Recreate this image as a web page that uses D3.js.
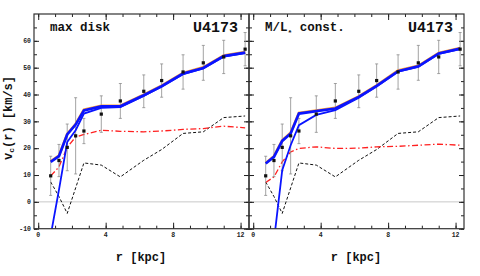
<!DOCTYPE html>
<html>
<head>
<meta charset="utf-8">
<script src="https://cdn.jsdelivr.net/npm/d3@7"></script>
<style>
  body { margin: 0; background: #fff; }
  svg { display: block; }
</style>
</head>
<body>
<script>
// rotation curve data, U4173
var radius = [0.74, 1.23, 1.72, 2.22, 2.71, 3.74, 4.87, 6.26, 7.32, 8.59, 9.79, 11.0, 12.27];
var vobs   = [9.7, 15.4, 20.3, 24.6, 26.4, 32.7, 37.6, 41.2, 45.2, 48.4, 51.8, 54.0, 56.9];
var verr   = [7.3, 6.0, 8.7, 14.2, 4.7, 6.8, 6.5, 6.1, 6.2, 6.4, 6.5, 6.2, 6.2];

var vgas   = [7.4, 2.0, -4.3, 5.2, 14.5, 13.7, 9.3, 15.5, 19.5, 25.5, 26.1, 31.4, 32.0];

// max disk
var vtotMax  = [14.9, 17.0, 25.1, 28.8, 34.1, 35.6, 35.6, 39.7, 43.1, 47.8, 49.9, 54.3, 55.6];
var vhaloMax = [-12.5, 4.5, 22.3, 26.7, 32.9, 35.0, 35.3, 39.5, 43.0, 47.6, 49.7, 54.1, 55.4];
var vdiskMax = [9.7, 13.0, 20.3, 24.2, 25.1, 26.7, 26.3, 26.1, 26.4, 27.0, 27.3, 28.2, 27.6];

// M/L const
var vtotML  = [14.3, 16.8, 22.7, 25.5, 32.9, 33.8, 34.8, 39.1, 43.2, 48.7, 50.5, 55.3, 57.1];
var vhaloML = [-40, -14.5, 11.8, 21.1, 28.6, 32.4, 34.2, 38.8, 43.0, 48.5, 50.3, 55.1, 56.9];
var vdiskML = [7.2, 9.3, 14.9, 18.6, 19.9, 20.5, 19.9, 20.0, 20.5, 20.7, 21.1, 21.5, 21.1];

var yTicks = [-10, 0, 10, 20, 30, 40, 50, 60];
var xTicks = [0, 4, 8, 12];

var panels = [
  {title: 'max disk', tot: vtotMax, halo: vhaloMax, disk: vdiskMax},
  {title: 'M/L', tot: vtotML, halo: vhaloML, disk: vdiskML}
];

var W = 480, H = 276;
var margin = {top: 14, left: 34},
    pw = 215,
    ph = 214.7;

var font = "'Liberation Mono', 'Courier New', 'DejaVu Sans Mono', monospace";

var svg = d3.select('body').append('svg')
  .attr('width', W)
  .attr('height', H);

var x = d3.scaleLinear().domain([-0.25, 12.5]).range([0, pw]);
var y = d3.scaleLinear().domain([-10, 70]).range([ph, 0]);

var line = d3.line()
  .x(function(d){ return x(d[0]); })
  .y(function(d){ return y(d[1]); });

function pairs(vals){
  return vals.map(function(v, i){ return [radius[i], v]; });
}

var defs = svg.append('defs');

panels.forEach(function(p, k){
  var g = svg.append('g')
    .attr('transform', 'translate(' + (margin.left + k * pw) + ',' + margin.top + ')');

  defs.append('clipPath').attr('id', 'clip' + k)
    .append('rect').attr('width', pw).attr('height', ph);

  // zero line
  g.append('line')
    .attr('x1', 0).attr('x2', pw)
    .attr('y1', y(0)).attr('y2', y(0))
    .attr('stroke', '#c8c8c8').attr('stroke-width', 1);

  // ticks, all four sides
  var minorX = d3.range(0, 13, 1);
  var minorY = d3.range(-10, 70, 5);

  var ax = [
    d3.axisBottom(x).tickValues(xTicks).tickSize(-6).tickFormat(''),
    d3.axisBottom(x).tickValues(minorX).tickSize(-3).tickFormat(''),
    d3.axisTop(x).tickValues(xTicks).tickSize(-6).tickFormat(''),
    d3.axisTop(x).tickValues(minorX).tickSize(-3).tickFormat('')
  ];
  ax.forEach(function(a, i){
    g.append('g')
      .attr('transform', 'translate(0,' + (i < 2 ? ph : 0) + ')')
      .call(a)
      .call(function(s){ s.select('.domain').remove(); s.selectAll('line').attr('stroke', '#222'); });
  });

  var ay = [
    d3.axisLeft(y).tickValues(yTicks).tickSize(-5).tickFormat(''),
    d3.axisLeft(y).tickValues(minorY).tickSize(-3).tickFormat(''),
    d3.axisRight(y).tickValues(yTicks).tickSize(-5).tickFormat(''),
    d3.axisRight(y).tickValues(minorY).tickSize(-3).tickFormat('')
  ];
  ay.forEach(function(a, i){
    g.append('g')
      .attr('transform', 'translate(' + (i < 2 ? 0 : pw) + ',0)')
      .call(a)
      .call(function(s){ s.select('.domain').remove(); s.selectAll('line').attr('stroke', '#222'); });
  });

  // tick labels
  if (k == 0) {
    g.selectAll('.ylab').data(yTicks).enter().append('text')
      .text(function(d){ return d; })
      .attr('x', -3)
      .attr('y', function(d){ return y(d) + 2.3; })
      .style('text-anchor', 'end')
      .attr('font-family', font).attr('font-weight', 'bold')
      .attr('font-size', 6.5).attr('fill', '#222');
  }
  g.selectAll('.xlab').data(xTicks).enter().append('text')
    .text(function(d){ return d; })
    .attr('x', function(d){ return x(d); })
    .attr('y', ph + 8.5)
    .style('text-anchor', 'middle')
    .attr('font-family', font).attr('font-weight', 'bold')
    .attr('font-size', 6.5).attr('fill', '#222');

  var plot = g.append('g').attr('clip-path', 'url(#clip' + k + ')');

  // gas
  plot.append('path').datum(pairs(vgas))
    .attr('d', line).attr('fill', 'none')
    .attr('stroke', '#111').attr('stroke-width', 1)
    .attr('stroke-dasharray', '3,2');

  // disk
  plot.append('path').datum(pairs(p.disk))
    .attr('d', line).attr('fill', 'none')
    .attr('stroke', '#ff2020').attr('stroke-width', 1.3)
    .attr('stroke-dasharray', '6,2.5,1.5,2.5');

  // error bars
  var obs = radius.map(function(r, i){ return {r: r, v: vobs[i], e: verr[i]}; });
  plot.selectAll('.err').data(obs).enter().append('path')
    .attr('d', function(d){
      var xx = x(d.r), y1 = y(d.v + d.e), y2 = y(d.v - d.e);
      return 'M' + xx + ',' + y1 + 'V' + y2 +
             'M' + (xx - 1.5) + ',' + y1 + 'H' + (xx + 1.5) +
             'M' + (xx - 1.5) + ',' + y2 + 'H' + (xx + 1.5);
    })
    .attr('fill', 'none')
    .attr('stroke', '#8c8c8c').attr('stroke-width', 0.8);

  // halo-ish steep curve
  plot.append('path').datum(pairs(p.halo))
    .attr('d', line).attr('fill', 'none')
    .attr('stroke', '#0a14ff').attr('stroke-width', 1.8);

  // total, orange under blue
  plot.append('path').datum(pairs(p.tot))
    .attr('d', line).attr('fill', 'none')
    .attr('transform', 'translate(0,-0.6)')
    .attr('stroke', '#ffa030').attr('stroke-width', 2.6);
  plot.append('path').datum(pairs(p.tot))
    .attr('d', line).attr('fill', 'none')
    .attr('stroke', '#0a14ff').attr('stroke-width', 2.7);

  // points
  plot.selectAll('.pt').data(obs).enter().append('rect')
    .attr('x', function(d){ return x(d.r) - 1.6; })
    .attr('y', function(d){ return y(d.v) - 1.6; })
    .attr('width', 3.2).attr('height', 3.2)
    .attr('fill', '#111');

  // frame
  g.append('rect')
    .attr('width', pw).attr('height', ph)
    .attr('fill', 'none')
    .attr('stroke', '#333').attr('stroke-width', 1.2);

  // titles
  var t = g.append('text')
    .attr('x', 16).attr('y', 17)
    .attr('font-family', font).attr('font-weight', 'bold')
    .attr('font-size', 12.5).attr('fill', '#111');
  if (k == 0) {
    t.text(p.title);
  } else {
    t.append('tspan').text('M/L');
    t.append('tspan').text('*').attr('font-size', 8).attr('dy', 4);
    t.append('tspan').text(' const.').attr('dy', -4);
  }

  g.append('text')
    .text('U4173')
    .attr('x', pw - 11).attr('y', 18)
    .style('text-anchor', 'end')
    .attr('font-family', font).attr('font-weight', 'bold')
    .attr('font-size', 15).attr('fill', '#111');

  g.append('text')
    .text('r [kpc]')
    .attr('x', pw / 2 - 0.5).attr('y', ph + 32)
    .style('text-anchor', 'middle')
    .attr('font-family', font).attr('font-weight', 'bold')
    .attr('font-size', 12).attr('fill', '#111');
});

// y label
var yl = svg.append('text')
  .attr('transform', 'translate(12,118) rotate(-90)')
  .style('text-anchor', 'middle')
  .attr('font-family', font).attr('font-weight', 'bold')
  .attr('font-size', 12).attr('fill', '#111');
yl.append('tspan').text('v');
yl.append('tspan').text('c').attr('font-size', 8).attr('dy', 2);
yl.append('tspan').text('(r) [km/s]').attr('dy', -2);
</script>
</body>
</html>
